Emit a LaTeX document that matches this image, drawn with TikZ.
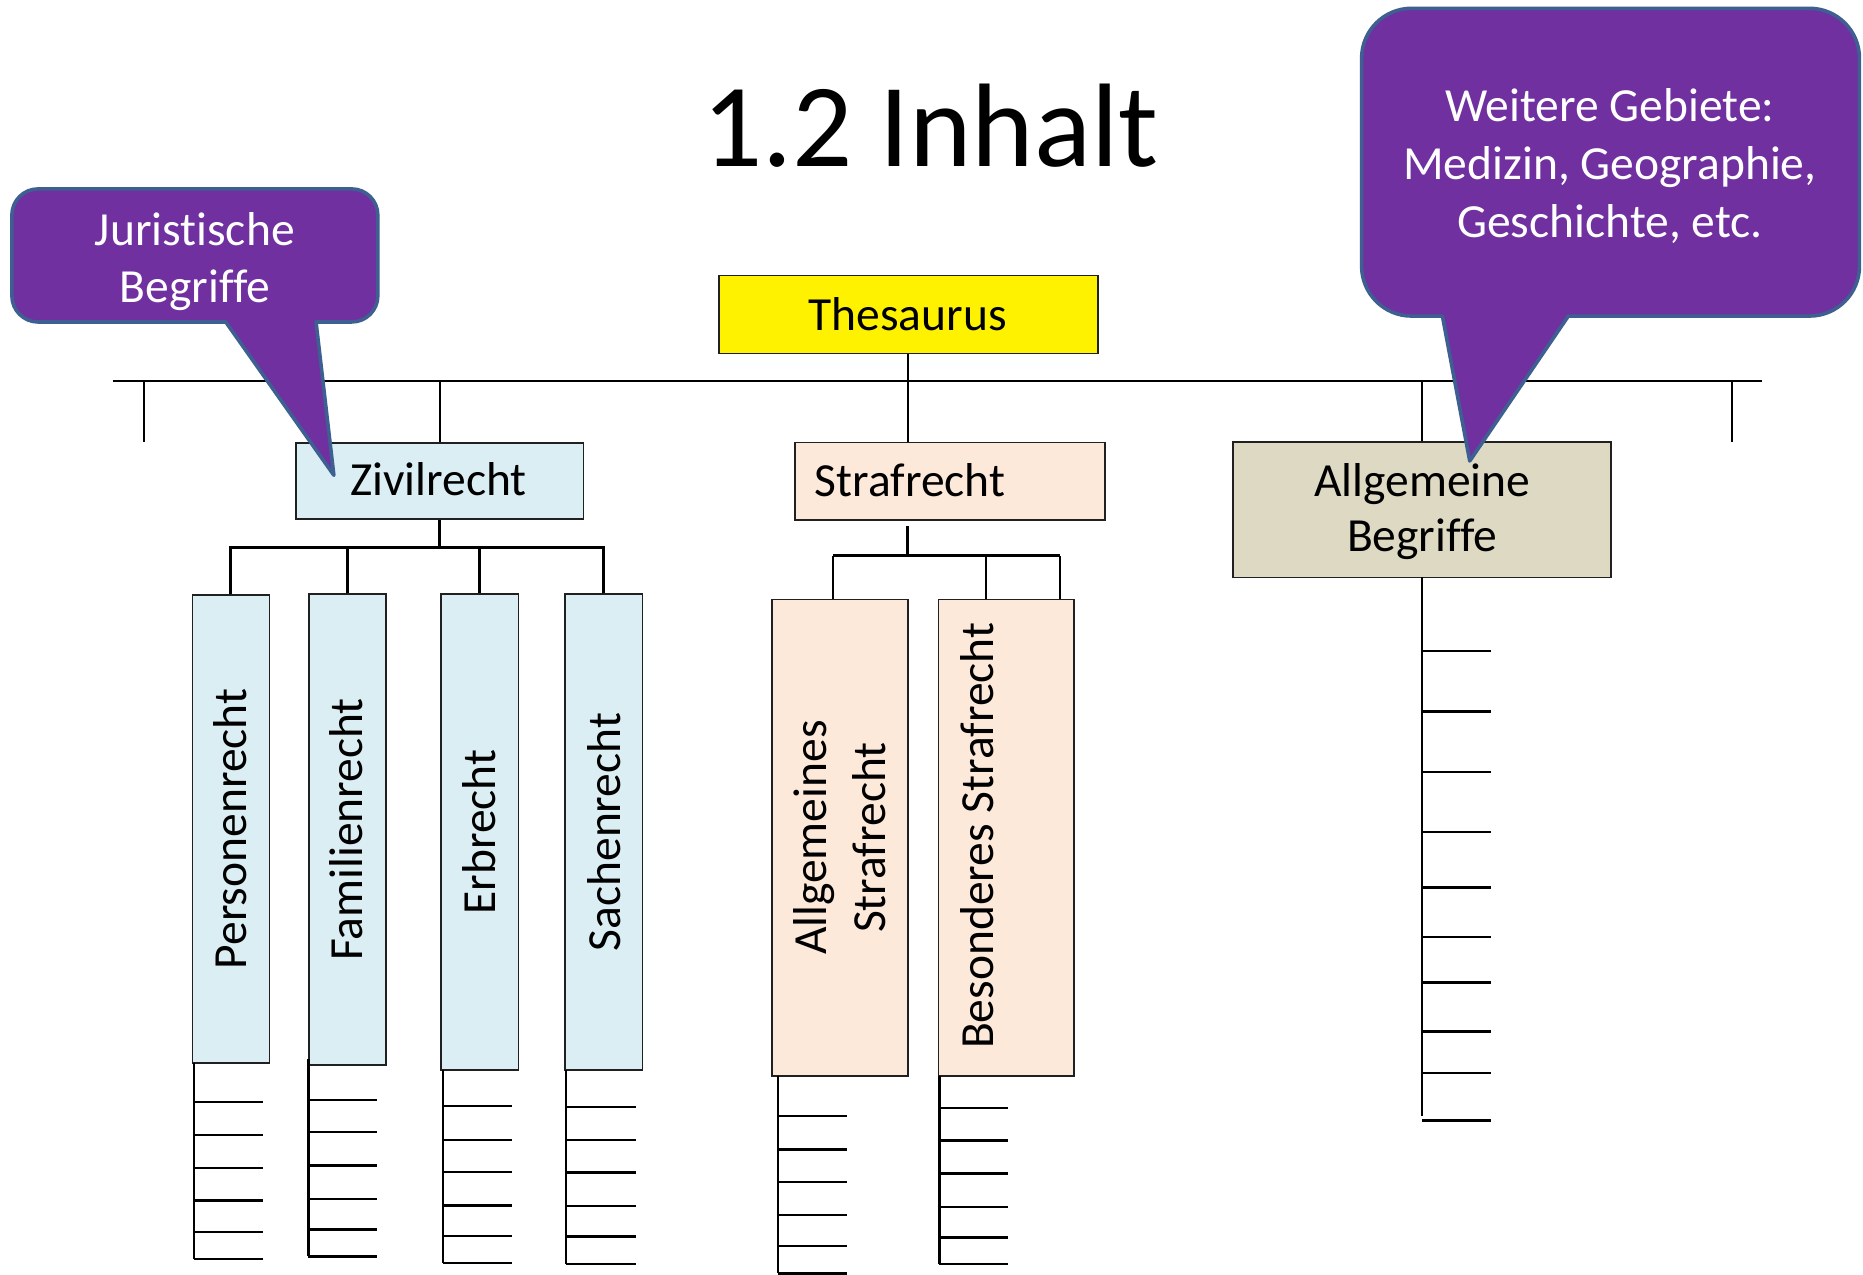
\documentclass[tikz,border=0pt]{standalone}
\usepackage{fontspec}
\setmainfont{Carlito}[Ligatures={NoCommon,NoContextual}]
\usetikzlibrary{calc}
\definecolor{zivfill}{HTML}{DAEEF3}
\definecolor{strfill}{HTML}{FDE9D9}
\definecolor{allgfill}{HTML}{DDD9C3}
\definecolor{callfill}{HTML}{7030A0}
\definecolor{calldraw}{HTML}{3D5F91}
\definecolor{boxline}{HTML}{202020}
\newcommand\mkladder[5]{%
  \draw[ladder] (#1,#2) -- (#1,#3);
  \foreach \ty in {#5} {\draw[ladder] (#1,\ty) -- (#4,\ty);}
}
\begin{document}
\begin{tikzpicture}[x=1pt,y=-1pt,
  lbl/.style={font=\fontsize{40}{48.8}\selectfont, inner sep=0pt},
  box/.style={draw=boxline, line width=1.4pt, inner sep=0pt},
  conn/.style={line width=1.6pt},
  bar/.style={line width=2.3pt},
  ladder/.style={line width=2pt},
  callout/.style={fill=callfill, draw=calldraw, line width=3pt, line join=round},
  ctext/.style={lbl, text=white}]
\useasboundingbox (0,0) rectangle (1568,1073);
\fill[white] (0,0) rectangle (1568,1073);

% title
\node[lbl, anchor=base, font=\fontsize{100}{120}\selectfont] (title) at (783,140.3) {1.2 Inhalt};

% main boxes
\node[box, fill=yellow, minimum width=319pt, minimum height=65.5pt] (thes) at (764.5,264.75) {};
\node[lbl, anchor=base] (thest) at (764,278.3) {Thesaurus};

\node[box, fill=zivfill, minimum width=242pt, minimum height=64pt] (ziv) at (370,405) {};
\node[lbl, anchor=base] (zivt) at (369,417) {Zivilrecht};

\node[box, fill=strfill, minimum width=261pt, minimum height=65pt] (straf) at (799.5,404.9) {};
\node[lbl, anchor=base] (straft) at (766,418) {Strafrecht};

\node[box, fill=allgfill, minimum width=318pt, minimum height=114pt] (allg) at (1197,429) {};
\node[lbl, anchor=base] (allgt1) at (1197,418) {Allgemeine};
\node[lbl, anchor=base] (allgt2) at (1197,464.4) {Begriffe};

% sub boxes Zivilrecht
\node[box, fill=zivfill, minimum width=64.8pt, minimum height=393.7pt] (pers) at (194.3,697.7) {};
\node[lbl, anchor=base, rotate=90] (perst) at (207.6,697.7) {Personenrecht};
\node[box, fill=zivfill, minimum width=64.8pt, minimum height=396.5pt] (fam) at (292.5,698.2) {};
\node[lbl, anchor=base, rotate=90] (famt) at (305.3,698.2) {Familienrecht};
\node[box, fill=zivfill, minimum width=65.4pt, minimum height=400.7pt] (erb) at (403.6,700.3) {};
\node[lbl, anchor=base, rotate=90] (erbt) at (416.7,700.3) {Erbrecht};
\node[box, fill=zivfill, minimum width=65.1pt, minimum height=400.7pt] (sach) at (508.2,700.3) {};
\node[lbl, anchor=base, rotate=90] (sacht) at (521.9,700.3) {Sachenrecht};

% sub boxes Strafrecht
\node[box, fill=strfill, minimum width=114pt, minimum height=401pt] (astr) at (707,705) {};
\node[lbl, anchor=base, rotate=90] (astrt1) at (695.9,705) {Allgemeines};
\node[lbl, anchor=base, rotate=90] (astrt2) at (745,705) {Strafrecht};
\node[box, fill=strfill, minimum width=114.2pt, minimum height=401pt] (bstr) at (846.9,705) {};
\node[lbl, anchor=base, rotate=90] (bstrt) at (836.1,703.5) {Besonderes Strafrecht};

% main line and ticks
\coordinate (mlL) at (95,321);
\coordinate (mlR) at (1483,321);
\draw[conn] (mlL) -- (mlR);
\coordinate (tkL) at (121,372);
\coordinate (tkR) at (1458,372);
\draw[conn] (tkL |- mlL) -- (tkL);
\draw[conn] (tkR |- mlL) -- (tkR);
\draw[conn] (thes.south) -- (thes.south |- straf.north);
\draw[conn] (ziv.north) -- (ziv.north |- mlL);
\draw[conn] (allg.north) -- (allg.north |- mlL);

% Zivilrecht branches
\coordinate (zb) at (370,461);
\draw[bar] (ziv.south) -- (zb);
\draw[bar] (pers.north) |- (zb) -| (sach.north);
\draw[bar] (fam.north) -- (fam.north |- zb);
\draw[bar] (erb.north) -- (erb.north |- zb);

% Strafrecht branches
\coordinate (sa) at (764,443);
\coordinate (sb) at (764,467.7);
\coordinate (d1) at ([xshift=-6pt]astr.north);
\coordinate (d2) at ([xshift=-17pt]bstr.north);
\coordinate (d3) at ([xshift=45.4pt]bstr.north);
\draw[bar] (sa) -- (sb);
\draw[bar] (d1 |- sb) -- (d3 |- sb);
\draw[conn] (d1) -- (d1 |- sb);
\draw[conn] (d2) -- (d2 |- sb);
\draw[conn] (d3) -- (d3 |- sb);

% ladders
\mkladder{163.3}{894.5}{1059.8}{221}{927.3,955.4,982.9,1010.4,1037.0,1059.8}
\mkladder{259.5}{891}{1057.5}{317}{925.9,952.6,980.9,1009,1034.8,1057.5}
\mkladder{372.6}{900.7}{1062.9}{431}{931,959.6,986.5,1014.6,1040.1,1062.9}
\mkladder{476.4}{900.7}{1063.7}{535}{931.8,959.6,986.8,1015.2,1040.7,1063.7}
\mkladder{654.9}{905.7}{1071.8}{713}{939.4,967.5,994.9,1022.4,1048.8,1071.8}
\mkladder{790.7}{905.7}{1063.7}{848}{932.7,959.9,987.7,1015.7,1041.5,1063.7}
\mkladder{1197}{486}{939.3}{1255}{548.1,598.7,649.6,700.2,747.1,788.7,826.9,868.2,903,943}

% callouts
\draw[callout] (10,215) [rounded corners=22pt] -- (10,159) -- (318,159) -- (318,271)
  [sharp corners] -- (266,271) -- (281,400) -- (190,271)
  [rounded corners=22pt] -- (10,271) -- cycle;
\node[ctext, anchor=base] (c1a) at (164,207) {Juristische};
\node[ctext, anchor=base] (c1b) at (164,254.3) {Begriffe};

\draw[callout] (1146,130) [rounded corners=42pt] -- (1146,7) -- (1565,7) -- (1565,266)
  [sharp corners] -- (1320,266) -- (1237,388) -- (1214,266)
  [rounded corners=42pt] -- (1146,266) -- cycle;
\node[ctext, anchor=base] (c2a) at (1355,102) {Weitere Gebiete:};
\node[ctext, anchor=base] (c2b) at (1355,151) {Medizin, Geographie,};
\node[ctext, anchor=base] (c2c) at (1355,199.5) {Geschichte, etc.};
\end{tikzpicture}
\end{document}
